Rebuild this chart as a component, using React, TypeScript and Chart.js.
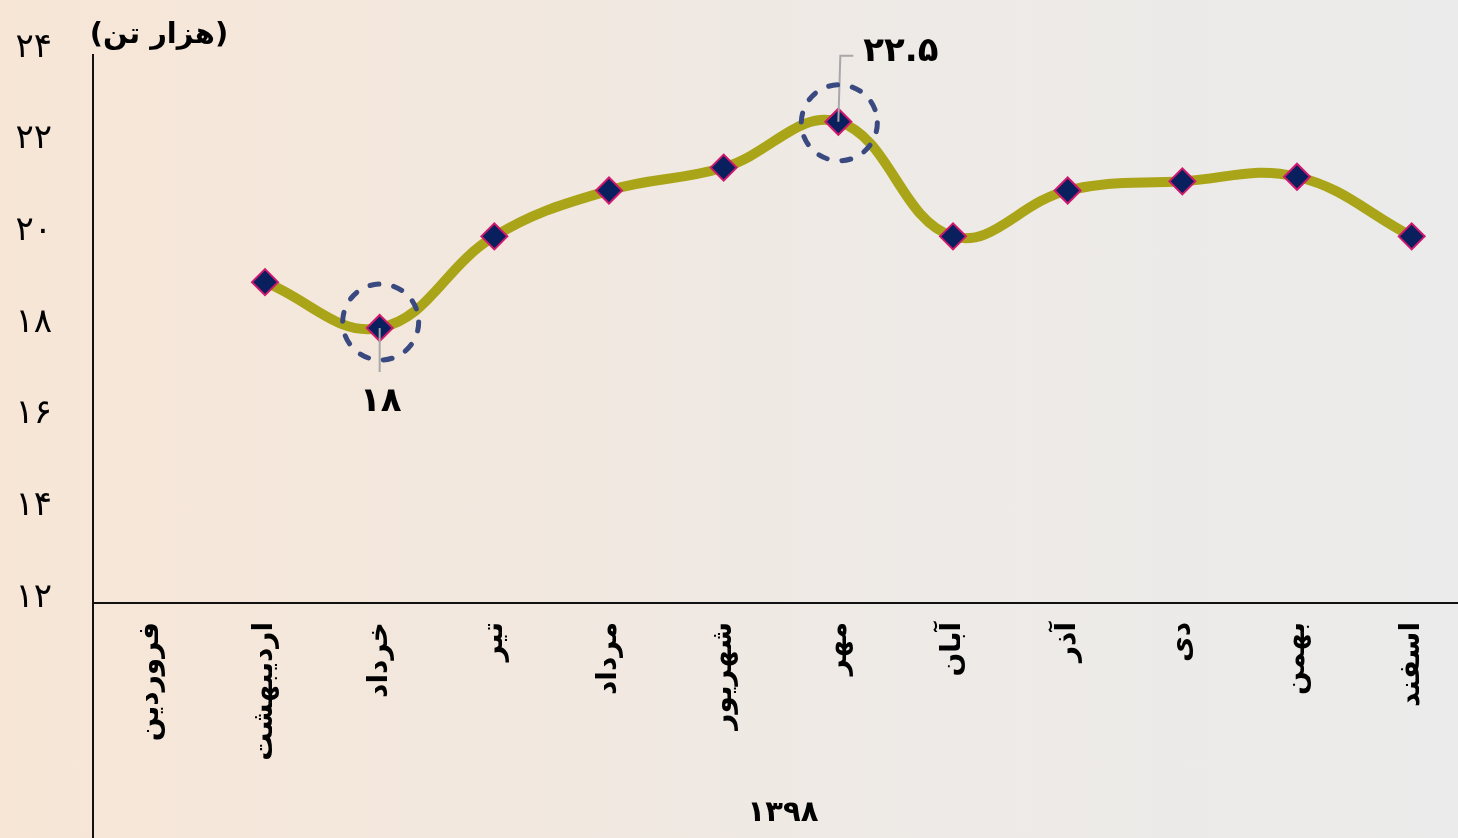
import React, { useEffect, useRef } from "react";
import { Chart, registerables } from "chart.js";

Chart.register(...registerables);

const months = ["فروردین", "اردیبهشت", "خرداد", "تیر", "مرداد", "شهریور", "مهر", "آبان", "آذر", "دی", "بهمن", "اسفند"];
const values: (number | null)[] = [null, 19, 18, 20, 21, 21.5, 22.5, 20, 21, 21.2, 21.3, 20];
const yMin = 12;
const yMax = 24;
const yStep = 2;
const unitTitle = "(هزار تن)";
const yearLabel = "۱۳۹۸";
const highlightIndex = [2, 6];
const highlightText = ["۱۸", "۲۲.۵"];

const toFa = (s: string) => s.replace(/[0-9]/g, (d) => "۰۱۲۳۴۵۶۷۸۹"[+d]);

const FONT = "'DejaVu Sans', 'Noto Sans', sans-serif";

export default function App() {
  const ref = useRef<HTMLCanvasElement | null>(null);

  useEffect(() => {
    const canvas = ref.current;
    if (!canvas) return;

    const overlay = {
      id: "overlay",
      afterDraw(chart: any) {
        const ctx = chart.ctx as CanvasRenderingContext2D;
        const area = chart.chartArea;
        const meta = chart.getDatasetMeta(0);
        ctx.save();
        ctx.strokeStyle = "#111";
        ctx.lineWidth = 2;
        ctx.beginPath();
        ctx.moveTo(area.left, 54);
        ctx.lineTo(area.left, chart.height);
        ctx.moveTo(area.left, area.bottom);
        ctx.lineTo(chart.width, area.bottom);
        ctx.stroke();

        highlightIndex.forEach((idx, k) => {
          const p = meta.data[idx];
          const x = p.x;
          const y = p.y;
          ctx.strokeStyle = "#a8a8a8";
          ctx.lineWidth = 2;
          ctx.lineCap = "butt";
          ctx.setLineDash([]);
          ctx.beginPath();
          if (k === 0) {
            ctx.moveTo(x, y);
            ctx.lineTo(x, y + 44);
          } else {
            ctx.moveTo(x, y);
            ctx.lineTo(x + 2, y - 66);
            ctx.lineTo(x + 15, y - 66);
          }
          ctx.stroke();

          ctx.strokeStyle = "#3a4a80";
          ctx.lineWidth = 5;
          ctx.lineCap = "round";
          ctx.setLineDash([9, 15]);
          ctx.beginPath();
          ctx.arc(x + 1, k === 0 ? y - 6 : y + 1, 38, 0, Math.PI * 2);
          ctx.stroke();
          ctx.setLineDash([]);
          ctx.lineCap = "butt";

          ctx.fillStyle = "#000";
          ctx.font = `bold 34px ${FONT}`;
          ctx.textBaseline = "middle";
          if (k === 0) {
            ctx.textAlign = "center";
            ctx.fillText(highlightText[k], x + 1, y + 74);
          } else {
            ctx.textAlign = "left";
            ctx.fillText(highlightText[k], x + 25, y - 70);
          }
        });

        ctx.fillStyle = "#000";
        ctx.font = `bold 29px ${FONT}`;
        ctx.textAlign = "center";
        ctx.textBaseline = "middle";
        ctx.fillText(unitTitle, 159, 35);

        ctx.font = `bold 29px ${FONT}`;
        ctx.fillText(yearLabel, 783, 813);
        ctx.restore();
      },
    };

    const chart = new Chart(canvas, {
      type: "line",
      data: {
        labels: months,
        datasets: [
          {
            data: values,
            borderColor: "#aaa518",
            borderWidth: 10,
            tension: 0.4,
            pointStyle: "rectRot",
            pointRadius: 13,
            pointBackgroundColor: "#0a1f5e",
            pointBorderColor: "#d0186e",
            pointBorderWidth: 2,
            fill: false,
          },
        ],
      },
      options: {
        responsive: false,
        animation: false,
        devicePixelRatio: 1,
        layout: { padding: { top: 53, left: 0, right: 0, bottom: 0 } },
        plugins: { legend: { display: false }, tooltip: { enabled: false } },
        scales: {
          x: {
            offset: true,
            grid: { display: false, drawTicks: false },
            border: { display: false },
            ticks: {
              autoSkip: false,
              minRotation: 90,
              maxRotation: 90,
              padding: 19,
              color: "#000",
              font: { family: FONT, size: 28, weight: "bold" },
            },
            afterFit: (scale: any) => {
              scale.height = 235;
            },
          },
          y: {
            min: yMin,
            max: yMax,
            grid: { display: false, drawTicks: false },
            border: { display: false },
            ticks: {
              stepSize: yStep,
              padding: 41,
              labelOffset: -5,
              color: "#000",
              font: { family: FONT, size: 34 },
              callback: (v: any) => toFa(String(v)),
            },
            afterFit: (scale: any) => {
              scale.width = 93;
              scale.paddingTop = 0;
              scale.paddingBottom = 0;
            },
          },
        },
      },
      plugins: [overlay],
    } as any);

    return () => chart.destroy();
  }, []);

  return (
    <div
      style={{
        position: "absolute",
        left: 0,
        top: 0,
        width: 1458,
        height: 838,
        overflow: "hidden",
        background:
          "linear-gradient(90deg, #f7e6d6 0%, #f2e8df 35%, #eeeae6 60%, #ebebeb 100%)",
      }}
    >
      <canvas ref={ref} width={1484} height={838} style={{ display: "block" }} />
    </div>
  );
}
